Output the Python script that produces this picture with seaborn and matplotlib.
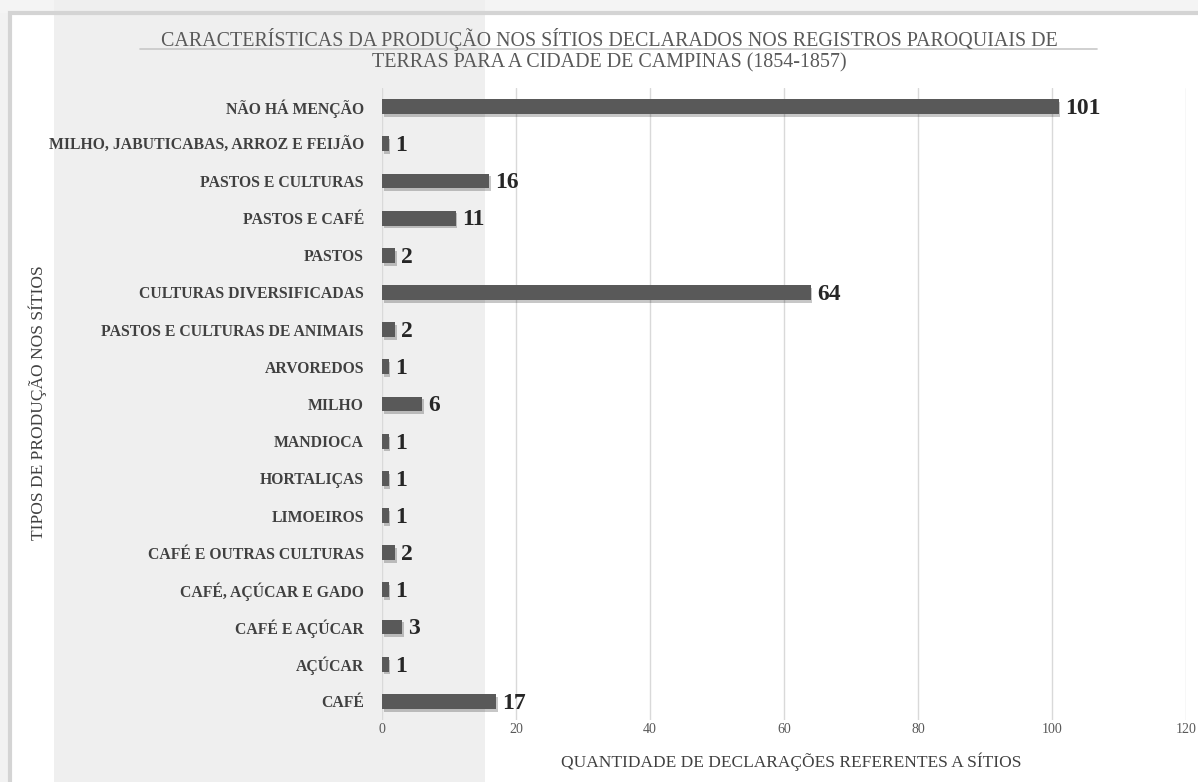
import matplotlib
matplotlib.use("Agg")
import matplotlib.pyplot as plt
import matplotlib.patheffects as pe
from matplotlib.patches import Rectangle
from matplotlib.lines import Line2D
import seaborn as sns
import pandas as pd

categories = [
    "NÃO HÁ MENÇÃO",
    "MILHO, JABUTICABAS, ARROZ E FEIJÃO",
    "PASTOS E CULTURAS",
    "PASTOS E CAFÉ",
    "PASTOS",
    "CULTURAS DIVERSIFICADAS",
    "PASTOS E CULTURAS DE ANIMAIS",
    "ARVOREDOS",
    "MILHO",
    "MANDIOCA",
    "HORTALIÇAS",
    "LIMOEIROS",
    "CAFÉ E OUTRAS CULTURAS",
    "CAFÉ, AÇÚCAR E GADO",
    "CAFÉ E AÇÚCAR",
    "AÇÚCAR",
    "CAFÉ",
]
values = [101, 1, 16, 11, 2, 64, 2, 1, 6, 1, 1, 1, 2, 1, 3, 1, 17]
x_ticks = [0, 20, 40, 60, 80, 100, 120]

title_line1 = "CARACTERÍSTICAS DA PRODUÇÃO NOS SÍTIOS DECLARADOS NOS REGISTROS PAROQUIAIS DE"
title_line2 = "TERRAS PARA A CIDADE DE CAMPINAS (1854-1857)"
x_label = "QUANTIDADE DE DECLARAÇÕES REFERENTES A SÍTIOS"
y_label = "TIPOS DE PRODUÇÃO NOS SÍTIOS"

df = pd.DataFrame({"categoria": categories, "quantidade": values})

sns.set_theme(style="white")
plt.rcParams["font.family"] = ["Liberation Serif", "DejaVu Serif"]

W, H = 1198, 782
fig = plt.figure(figsize=(W / 100, H / 100), dpi=100)
fig.patch.set_facecolor("white")

# background: textured panel approximation
fig.add_artist(Rectangle((0, 0), 10 / W, 1, transform=fig.transFigure,
                         facecolor="#f2f2f2", edgecolor="none", zorder=0))
fig.add_artist(Rectangle((0, 1 - 13 / H), 1, 13 / H, transform=fig.transFigure,
                         facecolor="#f4f4f4", edgecolor="none", zorder=0))
fig.add_artist(Rectangle((54 / W, 0), (485 - 54) / W, 1, transform=fig.transFigure,
                         facecolor="#efefef", edgecolor="none", zorder=0))
# chart frame
fig.add_artist(Rectangle((10 / W, -0.02), 1.2, 1 - 13 / H + 0.02, transform=fig.transFigure,
                         facecolor="none", edgecolor="#d4d4d4", linewidth=3, zorder=1))

ax = fig.add_axes([382 / W, 1 - 720 / H, (1186 - 382) / W, (720 - 88) / H])
ax.set_facecolor("none")

sns.barplot(data=df, x="quantidade", y="categoria", orient="h", color="#595959",
            width=0.4, saturation=1, linewidth=0, ax=ax, zorder=3)

for p in ax.patches:
    p.set_edgecolor("none")
    p.set_path_effects([pe.SimplePatchShadow(offset=(1.2, -2), shadow_rgbFace="#000000", alpha=0.22),
                        pe.Normal()])

for i, v in enumerate(values):
    ax.text(v + 0.9, i + 0.05, str(v), va="center", ha="left", fontsize=17,
            fontweight="bold", color="#262626", zorder=4)

ax.set_xlim(0, 120)
ax.set_ylim(16.5, -0.5)
ax.set_xticks(x_ticks)
ax.set_xticklabels([str(t) for t in x_ticks])
ax.grid(axis="x", color="#d9d9d9", linewidth=1, zorder=0)
ax.grid(axis="y", visible=False)
for s in ax.spines.values():
    s.set_visible(False)
ax.tick_params(axis="x", length=0, pad=2, labelsize=10, labelcolor="#595959")
ax.tick_params(axis="y", length=0, pad=13, labelsize=11.3, labelcolor="#404040")
for lbl in ax.get_yticklabels():
    lbl.set_fontweight("bold")

ax.set_xlabel(x_label, fontsize=12.5, color="#404040")
ax.xaxis.set_label_coords((791 - 382) / (1186 - 382), -(762 - 720) / (720 - 88))
ax.xaxis.label.set_va("center")
ax.set_ylabel("")
fig.text(38 / W, 1 - 403 / H, y_label, rotation=90, ha="center", va="center",
         fontsize=12.5, color="#404040")

fig.text(609 / W, 1 - 46 / H, title_line1, ha="center", va="baseline",
         fontsize=14.4, color="#595959")
fig.text(609 / W, 1 - 67 / H, title_line2, ha="center", va="baseline",
         fontsize=14.4, color="#595959")
fig.add_artist(Line2D([140 / W, 1097 / W], [1 - 49 / H, 1 - 49 / H], transform=fig.transFigure,
                      color="#c8c8c8", linewidth=1.2))

fig.savefig("out.png", dpi=100)
